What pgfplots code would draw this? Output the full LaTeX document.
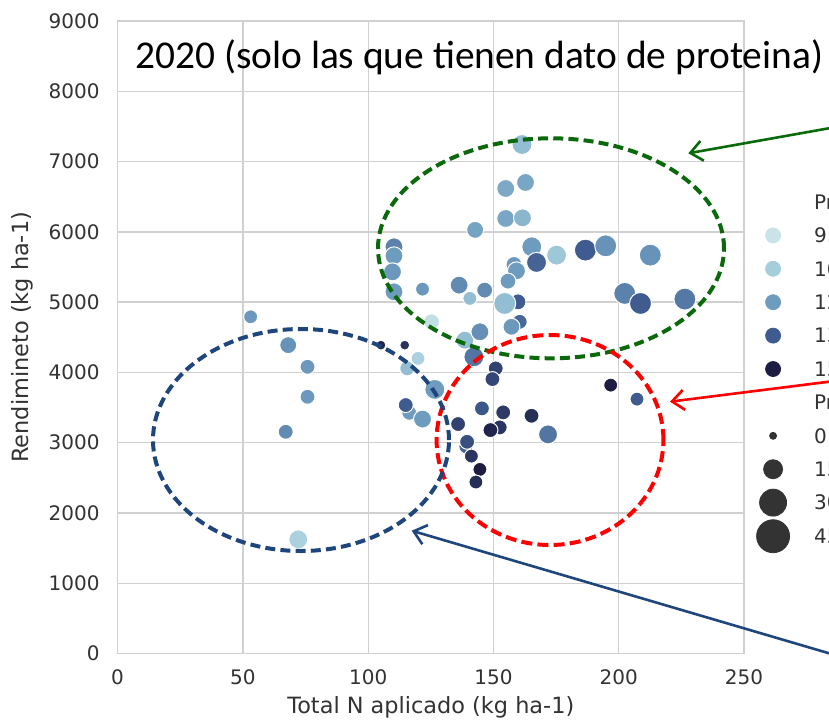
\documentclass[border=0pt]{standalone}
\usepackage{fontspec}
\setmainfont{DejaVu Sans}
\newfontfamily\titlefont{Carlito}
\usepackage{pgfplots}
\pgfplotsset{compat=1.18}
\usepackage{pgfplotstable}
\usetikzlibrary{arrows.meta}

\definecolor{gridgray}{RGB}{208,208,208}
\definecolor{txtgray}{RGB}{50,50,50}
\definecolor{annGreen}{RGB}{10,105,10}
\definecolor{annRed}{RGB}{255,0,0}
\definecolor{annBlue}{RGB}{30,70,125}
\definecolor{pA}{RGB}{201,227,232}
\definecolor{pB}{RGB}{165,206,219}
\definecolor{pC}{RGB}{110,156,191}
\definecolor{pD}{RGB}{63,91,143}
\definecolor{pE}{RGB}{28,29,64}
\definecolor{sizegray}{RGB}{51,51,51}

% n: total N (kg/ha), y: yield (kg/ha), p: protein (%), d: marker diameter
\pgfplotstableread{
n y p d
53.1 4791 12.1 14
68.1 4388 12.2 17
75.8 4080 12.1 15
75.8 3653 12.1 15
67.1 3155 12.4 15
72.1 1624 10.3 19
105.1 4388 14.8 10
114.6 4388 14.5 10
119.9 4199 10.3 14
115.6 4057 11.0 15
126.6 3758 12.0 20
116.4 3425 12.0 15
115.0 3535 13.5 15
121.7 3336 12.0 18
125.3 4720 9.3 16
110.3 5787 12.6 18
110.3 5659 12.0 18
109.7 5431 12.1 18
110.3 5147 12.0 18
121.7 5185 12.1 14
136.3 5242 12.4 18
140.6 5053 11.0 14
146.5 5171 12.4 16
142.7 6028 11.8 17
154.9 6617 11.6 18
162.8 6703 11.7 18
161.4 7243 11.0 20
154.9 6190 11.7 18
161.6 6199 11.2 18
165.3 5787 12.0 20
175.2 5669 10.7 20
167.2 5565 13.3 20
158.2 5536 12.1 16
159.2 5445 12.0 18
155.8 5299 12.0 16
159.8 5004 13.5 16
154.5 4981 11.0 22
160.5 4720 13.2 15
157.2 4649 12.1 17
186.7 5740 13.5 22
194.8 5801 12.2 22
212.6 5669 12.2 22
202.4 5124 12.6 22
208.7 4981 13.5 22
226.4 5043 12.8 22
138.6 4459 11.0 18
144.6 4578 12.3 18
142.2 4222 12.9 20
150.9 4057 14.1 15
149.6 3905 14.0 15
145.4 3488 13.6 15
153.9 3431 14.3 15
165.2 3383 14.6 15
171.8 3118 12.9 19
135.9 3265 14.1 15
152.5 3217 14.4 15
148.8 3179 14.8 15
139.0 2942 13.3 14
139.5 3013 13.8 15
141.2 2809 14.4 14
144.6 2620 15.0 14
143.0 2440 14.6 14
196.8 3819 15.0 14
207.3 3620 13.5 14
}\parcelas

\begin{document}
\begin{tikzpicture}
\begin{axis}[
  scale only axis, width=313.2pt, height=316.25pt,
  xmin=0, xmax=250, ymin=0, ymax=9000,
  xtick={0,50,...,250}, ytick={0,1000,...,9000},
  grid=major, major grid style={draw=gridgray, line width=0.65pt},
  axis line style={draw=gridgray, line width=0.65pt},
  major tick length=0pt,
  tick label style={font=\fontsize{10}{12}\selectfont, text=txtgray},
  /pgf/number format/assume math mode=true,
  /pgf/number format/1000 sep={},
  scaled ticks=false,
  xticklabel style={yshift=-4.7pt},
  yticklabel style={xshift=-5.5pt},
  xlabel={Total N aplicado (kg ha-1)},
  ylabel={Rendimineto (kg ha-1)},
  every axis x label/.style={at={(axis description cs:0.5,-0.08458)}, anchor=center,
    font=\fontsize{11.2}{13}\selectfont, text=txtgray},
  every axis y label/.style={at={(axis description cs:-0.15262,0.5)}, anchor=center,
    rotate=90, font=\fontsize{11.2}{13}\selectfont, text=txtgray},
  colormap={prot}{rgb255=(201,227,232) rgb255=(165,206,219) rgb255=(110,156,191) rgb255=(63,91,143) rgb255=(28,29,64)},
  point meta min=9, point meta max=15,
  clip=false,
  legend cell align=left,
  legend style={at={(1.01947,0.74024)}, anchor=north west, draw=none, fill=none,
    inner sep=0pt, outer sep=0pt, row sep=0pt, column sep=12.05pt,
    font=\fontsize{10}{12}\selectfont, text=txtgray,
    nodes={inner sep=0pt, text height=12pt, text depth=4.7pt}},
]
\addplot[scatter, only marks, mark=*, point meta=explicit, forget plot,
  scatter/use mapped color={draw=white, fill=mapped color},
  mark options={line width=0.5pt},
  visualization depends on={\thisrow{d}/4 \as \rad},
  scatter/@pre marker code/.append style={/tikz/mark size=\rad},
] table[x=n, y=y, meta=p] {\parcelas};

\addlegendimage{empty legend}
\addlegendentry{Pr}
\addlegendimage{legend image code/.code={\fill[pA] (0pt,0pt) circle (3.75pt);}}
\addlegendentry{9.}
\addlegendimage{legend image code/.code={\fill[pB] (0pt,0pt) circle (3.75pt);}}
\addlegendentry{10}
\addlegendimage{legend image code/.code={\fill[pC] (0pt,0pt) circle (3.75pt);}}
\addlegendentry{12}
\addlegendimage{legend image code/.code={\fill[pD] (0pt,0pt) circle (3.75pt);}}
\addlegendentry{13}
\addlegendimage{legend image code/.code={\fill[pE] (0pt,0pt) circle (3.75pt);}}
\addlegendentry{15}
\addlegendimage{empty legend}
\addlegendentry{Pr}
\addlegendimage{legend image code/.code={\fill[sizegray] (0pt,0pt) circle (1.75pt);}}
\addlegendentry{0}
\addlegendimage{legend image code/.code={\fill[sizegray] (0pt,0pt) circle (4.75pt);}}
\addlegendentry{15}
\addlegendimage{legend image code/.code={\fill[sizegray] (0pt,0pt) circle (6.75pt);}}
\addlegendentry{30}
\addlegendimage{legend image code/.code={\fill[sizegray] (0pt,0pt) circle (8.25pt);}}
\addlegendentry{45}
\end{axis}

% annotations, in pixel-like units measured from the top left corner
\begin{scope}[x=0.5pt,y=-0.5pt,shift={(-117.6,-653.5)}]
  \draw[annGreen, line width=2pt, dash pattern=on 5pt off 2.6pt]
    (551,248.3) ellipse [x radius=86.5pt, y radius=55pt];
  \draw[annRed, line width=2pt, dash pattern=on 5.5pt off 2.6pt]
    (550,440) ellipse [x radius=56.7pt, y radius=52.5pt];
  \draw[annBlue, line width=2pt, dash pattern=on 5pt off 2.6pt]
    (301,440) ellipse [x radius=74pt, y radius=55.5pt];
  \draw[annGreen, line width=1.3pt, -{Straight Barb[length=6pt,width=10pt]}]
    (840,126.3) -- (688.3,153.3);
  \draw[annRed, line width=1.3pt, -{Straight Barb[length=6pt,width=10pt]}]
    (840,380.3) -- (670,401.7);
  \draw[annBlue, line width=1.3pt, -{Straight Barb[length=6pt,width=10pt]}]
    (840,656.5) -- (411.7,530.7);
  \node[anchor=base west, inner sep=0pt, text=black,
        font=\titlefont\fontsize{19.7}{22}\selectfont] at (135,68.3)
    {2020 (solo las que tienen dato de proteina)};
  \pgfresetboundingbox
  \path (0,0) rectangle (829,720);
\end{scope}
\end{tikzpicture}
\end{document}
